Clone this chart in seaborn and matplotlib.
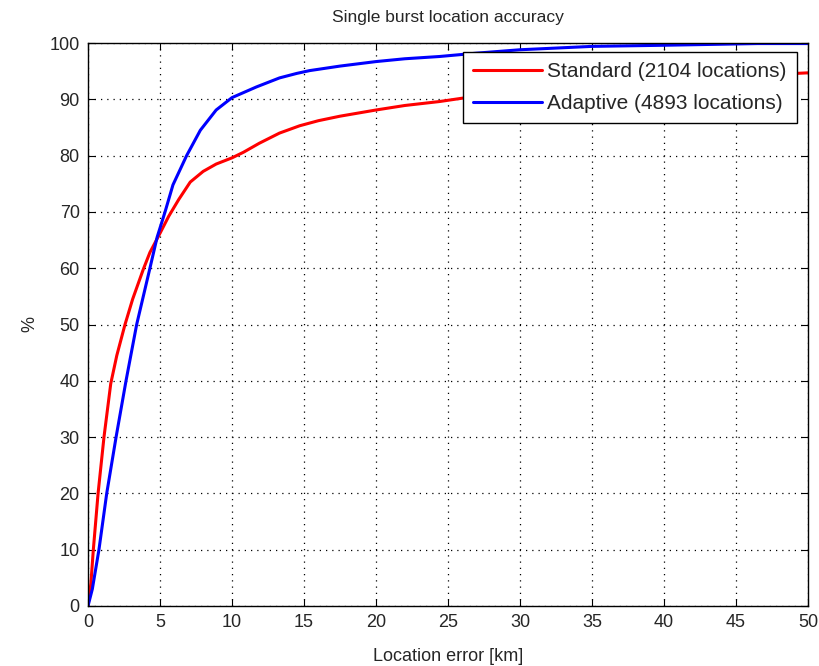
import matplotlib
matplotlib.use('Agg')
import matplotlib.pyplot as plt
import seaborn as sns
import pandas as pd

# ========= data =========
std_err = [0, 0.2, 0.37, 0.7, 1.11, 1.58, 2.0, 2.57, 3.1, 3.84, 4.3, 5.0, 5.6,
           6.3, 7.1, 8.0, 8.9, 10.0, 10.8, 11.9, 13.3, 14.7, 16.0, 17.5,
           20.0, 22.0, 24.4, 26.0, 28.0, 30.0, 35.0, 40.0, 45.0, 50.0]
std_pct = [0, 4, 10, 20, 30, 39.5, 44.5, 50, 54.5, 59.8, 62.8, 66.2, 69.2,
           72.2, 75.3, 77.2, 78.5, 79.6, 80.6, 82.2, 84.0, 85.3, 86.2, 87.0,
           88.1, 88.9, 89.6, 90.2, 90.8, 91.3, 92.5, 93.4, 94.1, 94.7]

adp_err = [0, 0.3, 0.76, 1.3, 1.95, 2.64, 3.38, 4.3, 4.8, 5.35, 5.9, 6.85,
           7.8, 8.9, 10.0, 11.7, 13.3, 14.5, 15.4, 17.5,
           20.0, 22.0, 24.4, 27.0, 30.0, 35.0, 40.0, 46.5, 50.0]
adp_pct = [0, 3, 10, 20, 30, 40, 50, 60, 65.5, 70, 74.8, 80,
           84.5, 88.1, 90.3, 92.2, 93.8, 94.6, 95.1, 95.9,
           96.7, 97.2, 97.6, 98.2, 98.8, 99.4, 99.6, 99.9, 99.9]

labels = ['Standard (2104 locations)', 'Adaptive (4893 locations)']
colors = ['#ff0000', '#0000ff']

df = pd.concat([
    pd.DataFrame({'err': std_err, 'pct': std_pct, 'method': labels[0]}),
    pd.DataFrame({'err': adp_err, 'pct': adp_pct, 'method': labels[1]}),
])

# ========= style =========
sns.set_style('ticks')
plt.rcParams['font.family'] = ['Liberation Sans', 'DejaVu Sans']

fig = plt.figure(figsize=(8.2, 6.66), dpi=100)
ax = fig.add_axes([88/820, 60/666, 720/820, 563/666])

sns.lineplot(data=df, x='err', y='pct', hue='method', palette=colors,
             linewidth=2.2, sort=False, estimator=None, ax=ax)

ax.set_xlim(0, 50)
ax.set_ylim(0, 100)
ax.set_xticks(range(0, 51, 5))
ax.set_yticks(range(0, 101, 10))
ax.grid(True, linestyle=(0, (1, 4)), color='black', linewidth=0.9)
ax.tick_params(direction='in', length=5, labelsize=13, top=True, right=True,
               labeltop=False, labelright=False, color='black', pad=6)
for s in ax.spines.values():
    s.set_visible(True)
    s.set_color('black')
    s.set_linewidth(1.0)

ax.set_xlabel('Location error [km]', fontsize=13, labelpad=12)
ax.set_ylabel('%', fontsize=13, labelpad=8)
ax.set_title('Single burst location accuracy', fontsize=12.5, pad=15)

leg = ax.legend(loc='upper right', bbox_to_anchor=(0.985, 0.984), fontsize=15,
                frameon=True, fancybox=False, edgecolor='black',
                borderaxespad=0, borderpad=0.5, handlelength=3.3,
                handletextpad=0.25, labelspacing=0.6)
leg.get_frame().set_linewidth(1.0)
leg.get_frame().set_alpha(1)

fig.savefig('out.png', dpi=100)
